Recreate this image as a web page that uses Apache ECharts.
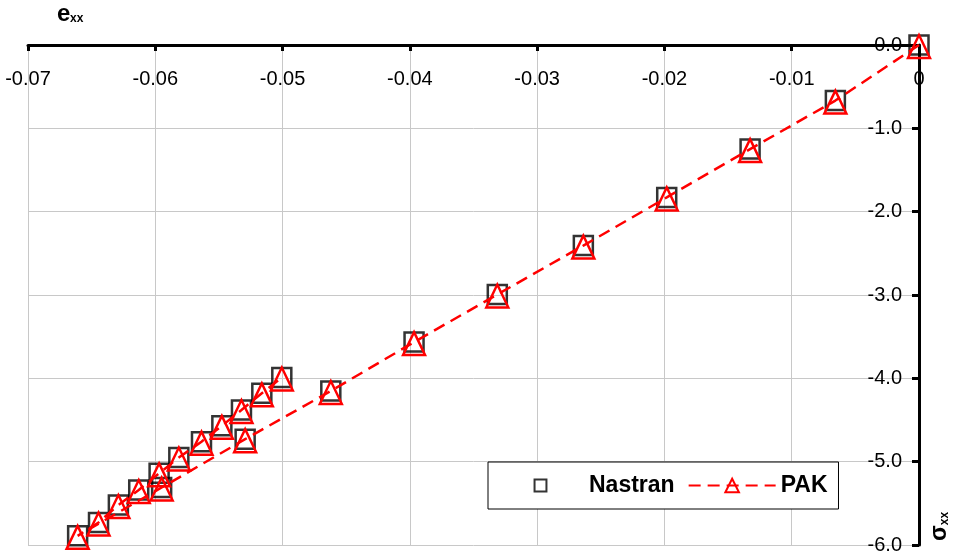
<!DOCTYPE html>
<html>
<head>
<meta charset="utf-8">
<script src="https://cdn.jsdelivr.net/npm/echarts@6/dist/echarts.min.js"></script>
<style>
html,body{margin:0;padding:0;background:#fff;}
#c{width:953px;height:551px;}
</style>
</head>
<body>
<div id="c"></div>
<script>
// strain e_xx and stress sigma_xx, in loading order
var pakStrain = [0, -0.00657, -0.01327, -0.01982, -0.02637, -0.03313, -0.03967, -0.04621, -0.05294, -0.0595, -0.0661, -0.06446, -0.0629, -0.0613, -0.0597, -0.05815, -0.05637, -0.05477, -0.05323, -0.05163, -0.05006];
var pakStress = [0, -0.667, -1.249, -1.829, -2.407, -2.994, -3.565, -4.152, -4.73, -5.31, -5.89, -5.73, -5.52, -5.34, -5.14, -4.95, -4.76, -4.57, -4.38, -4.18, -3.99];
var nastranStrain = [0, -0.00657, -0.01327, -0.01982, -0.02637, -0.03313, -0.03967, -0.04621, -0.05294, -0.0595, -0.0661, -0.06446, -0.0629, -0.0613, -0.0597, -0.05815, -0.05637, -0.05477, -0.05323, -0.05163, -0.05006];
var nastranStress = [0, -0.667, -1.249, -1.829, -2.407, -2.994, -3.565, -4.152, -4.73, -5.31, -5.89, -5.73, -5.52, -5.34, -5.14, -4.95, -4.76, -4.57, -4.38, -4.18, -3.99];
var seriesNames = ['Nastran', 'PAK'];
var xMin = -0.07, xMax = 0, xStep = 0.01;
var yMin = -6, yMax = 0, yStep = 1;

function pairs(xs, ys) { return xs.map(function (x, i) { return [x, ys[i]]; }); }

var font = 'Liberation Sans, Arial, sans-serif';
var chart = echarts.init(document.getElementById('c'), null, {renderer: 'canvas'});
chart.setOption({
  animation: false,
  backgroundColor: '#fff',
  grid: {left: 28, right: 34, top: 45, bottom: 6, containLabel: false, outerBoundsMode: 'none'},
  xAxis: {
    type: 'value', position: 'top', min: xMin, max: xMax, interval: xStep,
    axisLine: {show: true, onZero: false, lineStyle: {color: '#000', width: 3}},
    axisTick: {show: true, inside: true, length: 6, lineStyle: {color: '#000', width: 3}},
    axisLabel: {inside: true, margin: 24, color: '#000', fontSize: 20, fontFamily: font, showMinLabel: true, showMaxLabel: true},
    splitLine: {show: true, lineStyle: {color: '#c8c8c8', width: 1}}
  },
  yAxis: {
    type: 'value', position: 'right', min: yMin, max: yMax, interval: yStep,
    axisLine: {show: true, onZero: false, lineStyle: {color: '#000', width: 3}},
    axisTick: {show: true, inside: true, length: 7, lineStyle: {color: '#000', width: 3}},
    axisLabel: {inside: true, margin: 17, color: '#000', fontSize: 20, fontFamily: font, showMinLabel: true, showMaxLabel: true,
      formatter: function (v) { return v.toFixed(1); }},
    splitLine: {show: true, lineStyle: {color: '#c8c8c8', width: 1}}
  },
  legend: {
    left: 488, top: 462, orient: 'horizontal',
    itemWidth: 87, itemHeight: 17, itemGap: 13,
    padding: [12, 11, 12, 43],
    borderColor: '#000', borderWidth: 1, borderRadius: 0, backgroundColor: '#fff',
    textStyle: {fontSize: 23, fontWeight: 'bold', color: '#000', fontFamily: font},
    data: [
      {name: seriesNames[0], icon: 'path://M0,0M20,20M3,3L17,3L17,17L3,17Z'},
      {name: seriesNames[1]}
    ]
  },
  graphic: [
    {type: 'text', left: 57, top: 2, style: {text: 'e', font: 'bold 24px ' + font, fill: '#000'}},
    {type: 'text', left: 70, top: 13, style: {text: 'xx', font: 'bold 12px ' + font, fill: '#000'}},
    {type: 'text', x: 951, y: 541, rotation: Math.PI / 2,
      style: {text: '{a|σ}{b|xx}', align: 'left', verticalAlign: 'bottom',
        rich: {a: {font: 'bold 23px ' + font, fill: '#000', verticalAlign: 'bottom'},
               b: {font: 'bold 12px ' + font, fill: '#000', verticalAlign: 'bottom'}}}}
  ],
  series: [
    {
      name: seriesNames[0], type: 'scatter', data: pairs(nastranStrain, nastranStress),
      symbol: 'rect', symbolSize: 19, z: 2,
      itemStyle: {color: 'transparent', borderColor: '#000', borderWidth: 2.5}
    },
    {
      name: seriesNames[1], type: 'line', data: pairs(pakStrain, pakStress),
      symbol: 'triangle', symbolSize: [22, 23], symbolOffset: [0, 1.5], showSymbol: true, z: 3,
      itemStyle: {color: 'transparent', borderColor: '#ff0000', borderWidth: 2.5},
      lineStyle: {color: '#ff0000', width: 2.5, type: [12, 7]}
    }
  ]
});
</script>
</body>
</html>
